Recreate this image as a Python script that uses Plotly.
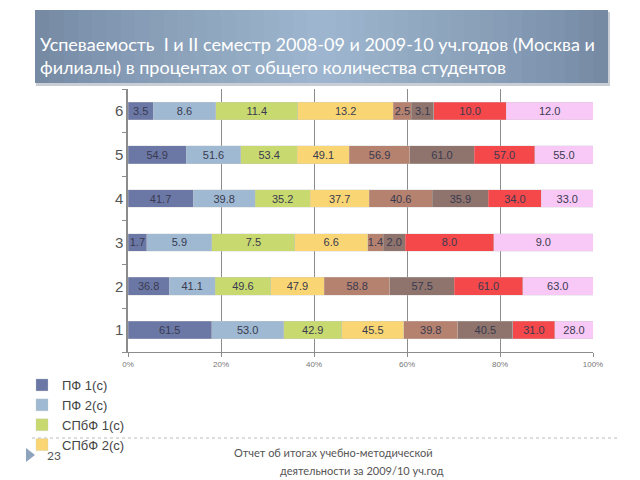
import plotly.graph_objects as go

categories = ["1", "2", "3", "4", "5", "6"]
series_names = ["ПФ 1(с)", "ПФ 2(с)", "СПбФ 1(с)", "СПбФ 2(с)",
                "НФ 1(с)", "НФ 2(с)", "Москва 1(с)", "Москва 2(с)"]
pf1 = [61.5, 36.8, 1.7, 41.7, 54.9, 3.5]
pf2 = [53.0, 41.1, 5.9, 39.8, 51.6, 8.6]
spbf1 = [42.9, 49.6, 7.5, 35.2, 53.4, 11.4]
spbf2 = [45.5, 47.9, 6.6, 37.7, 49.1, 13.2]
nf1 = [39.8, 58.8, 1.4, 40.6, 56.9, 2.5]
nf2 = [40.5, 57.5, 2.0, 35.9, 61.0, 3.1]
msk1 = [31.0, 61.0, 8.0, 34.0, 57.0, 10.0]
msk2 = [28.0, 63.0, 9.0, 33.0, 55.0, 12.0]
series_values = [pf1, pf2, spbf1, spbf2, nf1, nf2, msk1, msk2]
colors = ["#6B78A6", "#9FB9D2", "#C8D96F", "#F9D673", "#B4826F", "#8E746C", "#F4484B", "#F8C9F6"]
x_ticks = [0, 20, 40, 60, 80, 100]
x_tick_labels = ["0%", "20%", "40%", "60%", "80%", "100%"]

# page offset (body margin) compensation
OFF = 8
L, R, T, B = 128 - OFF, 640 - (593 - OFF), 89 - OFF, 480 - (352 - OFF)
PW, PH = 640 - L - R, 480 - T - B


def px(xp):
    return (xp - OFF - L) / PW


def py(yp):
    return (480 - B - (yp - OFF)) / PH


fig = go.Figure()
for i, (name, vals) in enumerate(zip(series_names, series_values)):
    fig.add_trace(go.Bar(
        y=categories, x=vals, name=name, orientation="h",
        marker=dict(color=colors[i], line=dict(color="rgba(200,200,200,0.6)", width=0.5)),
        text=[f"{v:.1f}" for v in vals], textposition="inside",
        insidetextanchor="middle", textangle=0,
        textfont=dict(family="Liberation Sans, Arial", size=11, color="#3A3A50"),
        width=0.4, showlegend=(i < 4), legendrank=i,
    ))

fig.update_layout(
    width=640, height=480,
    barmode="stack", barnorm="percent",
    paper_bgcolor="white", plot_bgcolor="white",
    margin=dict(l=L, r=R, t=T, b=B, autoexpand=False),
    uniformtext=dict(minsize=11, mode="show"),
    xaxis=dict(range=[0, 100], tickvals=x_ticks, ticktext=x_tick_labels,
               showgrid=True, gridcolor="#8C8C8C", gridwidth=1,
               showline=True, linecolor="#8C8C8C", linewidth=1,
               ticks="outside", ticklen=4, tickcolor="#8C8C8C",
               tickfont=dict(family="Liberation Sans, Arial", size=8, color="#777777"),
               zeroline=False, fixedrange=True),
    yaxis=dict(type="category", categoryorder="array", categoryarray=categories,
               showline=True, linecolor="#8C8C8C", linewidth=1.5,
               ticks="outside", tickson="boundaries", ticklen=4, tickcolor="#8C8C8C",
               tickfont=dict(family="Liberation Sans, Arial", size=15, color="#555555"),
               showgrid=False, fixedrange=True),
    legend=dict(x=px(22), y=py(370), xanchor="left", yanchor="top",
                orientation="v", traceorder="normal",
                font=dict(family="Liberation Sans, Arial", size=13, color="#444444"),
                itemwidth=30, tracegroupgap=0, bgcolor="rgba(0,0,0,0)"),
    showlegend=True,
)

# title banner: soft shadow + horizontal gradient strips
fig.add_shape(type="rect", xref="paper", yref="paper",
              x0=px(36), x1=px(610), y0=py(86), y1=py(12),
              fillcolor="#C9CED5", line=dict(width=0), layer="below")
x0b, x1b = 35, 608
n = 40
dark = (0x74, 0x88, 0xA2)
light = (0x9E, 0xB6, 0xCF)
for k in range(n):
    t = (k + 0.5) / n
    w = 1 - abs(t - 0.5) * 2
    w = w ** 0.8
    c = tuple(int(dark[j] + (light[j] - dark[j]) * w) for j in range(3))
    xa = x0b + (x1b - x0b) * k / n
    xb = x0b + (x1b - x0b) * (k + 1) / n + 0.6
    fig.add_shape(type="rect", xref="paper", yref="paper",
                  x0=px(xa), x1=px(min(xb, x1b)), y0=py(83), y1=py(10),
                  fillcolor="rgb(%d,%d,%d)" % c, line=dict(width=0), layer="below")
fig.add_annotation(xref="paper", yref="paper",
                   x=px(38), y=py(31), xanchor="left", yanchor="top",
                   align="left", showarrow=False,
                   text="Успеваемость  I и II семестр 2008-09 и 2009-10 уч.годов (Москва и<br>филиалы) в процентах от общего количества студентов",
                   font=dict(family="Lato, Open Sans, sans-serif", size=18, color="white"))

# footer
fig.add_shape(type="line", xref="paper", yref="paper",
              x0=px(32), x1=px(620), y0=py(438), y1=py(438),
              line=dict(color="#BBBBBB", width=1, dash="dot"))
fig.add_shape(type="path", xref="paper", yref="paper",
              path=f"M {px(26)} {py(448)} L {px(26)} {py(462)} L {px(35)} {py(455)} Z",
              fillcolor="#8EA4BD", line=dict(width=0))
fig.add_annotation(xref="paper", yref="paper", x=px(45), y=py(455),
                   xanchor="left", yanchor="middle", showarrow=False, text="23",
                   font=dict(family="Lato, sans-serif", size=12, color="#555555"))
fig.add_annotation(xref="paper", yref="paper", x=px(232), y=py(452),
                   xanchor="left", yanchor="middle", showarrow=False,
                   text="Отчет об итогах учебно-методической",
                   font=dict(family="Lato, sans-serif", size=11, color="#555555"))
fig.add_annotation(xref="paper", yref="paper", x=px(446), y=py(470),
                   xanchor="right", yanchor="middle", showarrow=False,
                   text="деятельности за 2009/10 уч.год",
                   font=dict(family="Lato, sans-serif", size=11, color="#555555"))

fig.write_html("out.html")
